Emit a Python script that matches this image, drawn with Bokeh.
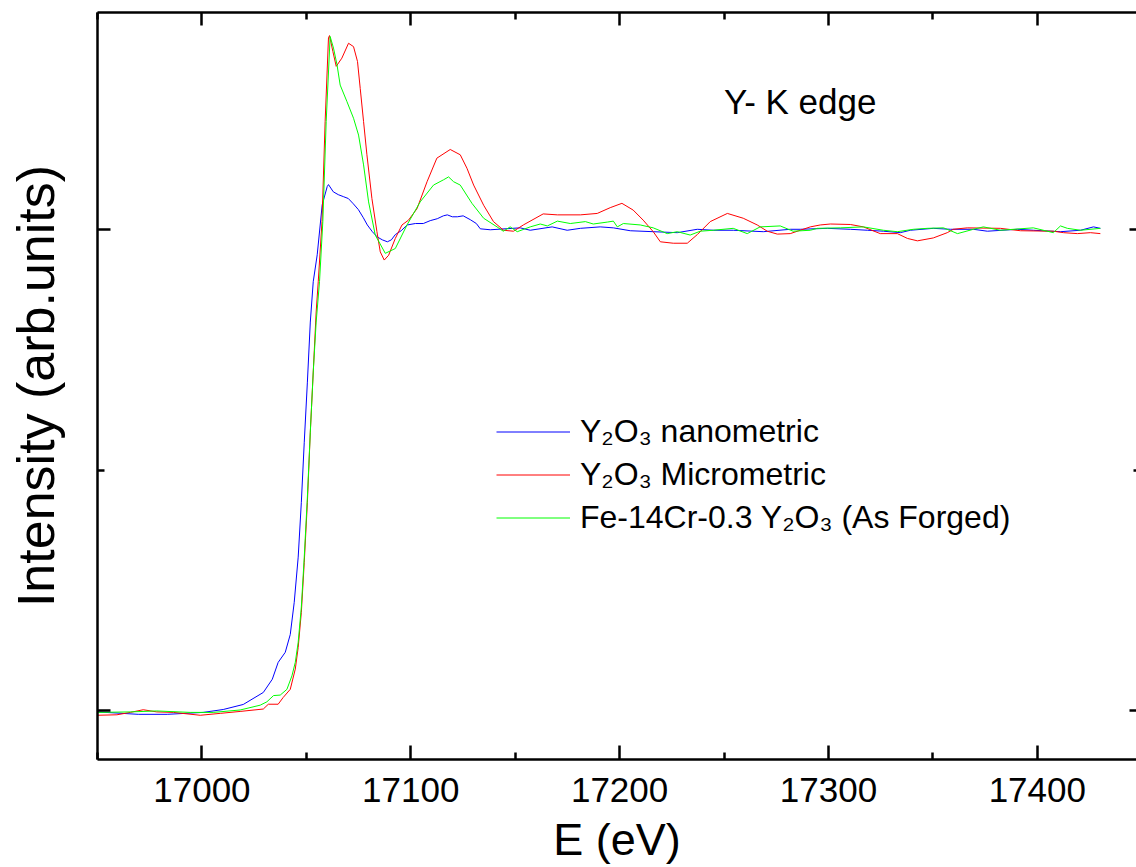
from bokeh.plotting import figure
from bokeh.models import (Range1d, FixedTicker, LinearAxis, Legend, LegendItem, Label)
from bokeh.embed import file_html
from bokeh.resources import INLINE

# ---------------- data ----------------
nano_E = [16950, 16969.5, 16983.4, 17000.6, 17010.2, 17019.8, 17029.4, 17033.7, 17036.5, 17039.9,
          17042.3, 17044.2, 17046.1, 17047.6, 17049.0, 17050.5, 17051.9, 17053.3, 17055.2, 17057.6,
          17060.0, 17060.6, 17062.9, 17065.3, 17067.7, 17070.1, 17072.5, 17074.9, 17077.3, 17079.2,
          17081.6, 17084.0, 17086.4, 17088.8, 17090.7, 17092.6, 17095.4, 17098.3, 17102.2, 17106.0,
          17109.3, 17112.7, 17115.6, 17117.5, 17119.9, 17122.3, 17125.1, 17128.5, 17131.4, 17133.3,
          17138.1, 17152.4, 17157.2, 17167.7, 17174.9, 17181.2, 17190.7, 17197.0, 17205.1, 17216.1,
          17227.6, 17237.2, 17244.8, 17254.4, 17268.8, 17281.7, 17286.5, 17299.5, 17310.5, 17318.6,
          17326.3, 17334.4, 17339.2, 17350.2, 17358.4, 17369.4, 17376.1, 17390.5, 17398.1, 17411.1,
          17420.7, 17426.9, 17430.2]
nano_I = [-0.003, -0.008, -0.008, -0.004, 0.002, 0.0125, 0.0375, 0.065, 0.100, 0.121,
          0.158, 0.225, 0.319, 0.433, 0.558, 0.683, 0.808, 0.892, 0.948, 1.052,
          1.090, 1.094, 1.079, 1.073, 1.069, 1.065, 1.054, 1.042, 1.025, 1.010,
          0.996, 0.985, 0.979, 0.975, 0.979, 0.990, 0.998, 1.010, 1.013, 1.013,
          1.019, 1.023, 1.029, 1.031, 1.027, 1.027, 1.029, 1.021, 1.013, 1.002,
          1.000, 1.004, 0.999, 1.006, 0.999, 1.003, 1.006, 1.004, 0.998, 0.996,
          0.994, 1.001, 0.999, 0.999, 0.996, 1.001, 1.001, 1.003, 1.001, 0.999,
          0.997, 0.994, 0.999, 1.003, 1.001, 1.001, 0.997, 1.001, 0.999, 0.996,
          0.999, 1.006, 1.003]

micro_E = [16950, 16959.3, 16965.7, 16971.9, 16978.4, 16986.3, 16999.2, 17008.8, 17018.3, 17029.4,
           17031.8, 17036.5, 17038.9, 17042.3, 17044.7, 17046.1, 17047.6, 17049.0, 17050.5, 17051.9,
           17053.3, 17054.7, 17055.7, 17057.5, 17059.0, 17060.6, 17061.1, 17062.7, 17064.3, 17067.0,
           17070.2, 17072.6, 17074.5, 17075.8, 17077.4, 17079.0, 17081.4, 17083.8, 17085.4, 17087.3,
           17089.4, 17092.6, 17095.8, 17098.9, 17103.0, 17107.8, 17112.5, 17118.9, 17123.7, 17126.9,
           17130.1, 17134.9, 17139.6, 17144.4, 17149.2, 17153.9, 17163.4, 17170.2, 17181.2, 17189.3,
           17195.5, 17201.1, 17206.5, 17211.3, 17216.1, 17219.5, 17225.7, 17232.4, 17237.2, 17243.4,
           17251.6, 17259.2, 17265.9, 17270.7, 17275.5, 17281.7, 17291.3, 17296.1, 17300.9, 17310.5,
           17316.7, 17324.8, 17333.0, 17337.8, 17342.6, 17350.2, 17356.9, 17359.8, 17366.5, 17382.3,
           17391.9, 17407.7, 17412.5, 17419.2, 17425.4, 17430.2]
micro_I = [-0.010, -0.009, -0.004, 0.0015, -0.003, -0.004, -0.010, -0.006, -0.002, 0.003,
           0.013, 0.013, 0.027, 0.044, 0.086, 0.131, 0.204, 0.308, 0.433, 0.579,
           0.704, 0.829, 0.892, 1.017, 1.225, 1.399, 1.404, 1.371, 1.340, 1.357,
           1.388, 1.381, 1.350, 1.294, 1.225, 1.156, 1.065, 0.996, 0.954, 0.937,
           0.947, 0.982, 1.010, 1.020, 1.044, 1.100, 1.149, 1.167, 1.156, 1.128,
           1.093, 1.051, 1.017, 0.999, 0.997, 1.010, 1.033, 1.031, 1.031, 1.034,
           1.046, 1.055, 1.041, 1.020, 0.996, 0.975, 0.972, 0.972, 0.990, 1.017,
           1.034, 1.024, 1.010, 0.997, 0.991, 0.992, 1.006, 1.010, 1.012, 1.011,
           1.006, 0.992, 0.992, 0.982, 0.977, 0.983, 0.994, 1.001, 1.004, 1.003,
           0.998, 0.997, 0.994, 0.992, 0.994, 0.992]

forged_E = [16950, 16965.7, 16978.4, 16994.4, 17005.4, 17018.3, 17027.9, 17031.1, 17034.3, 17037.5,
            17040.7, 17043.1, 17044.7, 17046.1, 17047.6, 17049.0, 17050.5, 17051.9, 17053.3, 17054.7,
            17056.3, 17057.9, 17059.5, 17061.4, 17063.0, 17064.7, 17066.2, 17069.4, 17072.6, 17075.0,
            17077.4, 17079.8, 17083.0, 17087.8, 17092.6, 17098.2, 17104.5, 17110.9, 17115.7, 17118.1,
            17120.5, 17123.7, 17129.3, 17134.9, 17141.3, 17144.3, 17147.6, 17151.0, 17157.2, 17162.0,
            17165.4, 17170.2, 17176.4, 17183.6, 17187.4, 17194.1, 17197.0, 17198.9, 17201.8, 17209.9,
            17216.1, 17222.8, 17227.6, 17233.8, 17238.6, 17244.8, 17254.4, 17261.1, 17267.3, 17276.9,
            17283.1, 17291.3, 17294.7, 17305.7, 17316.7, 17326.3, 17333.0, 17340.7, 17347.4, 17355.1,
            17361.8, 17369.4, 17374.2, 17382.3, 17398.1, 17407.7, 17411.1, 17414.4, 17420.7, 17430.2]
forged_I = [-0.004, -0.003, -0.001, -0.004, -0.004, 0.001, 0.011, 0.018, 0.031, 0.032,
            0.044, 0.072, 0.100, 0.142, 0.215, 0.319, 0.444, 0.579, 0.704, 0.808,
            0.892, 1.017, 1.225, 1.402, 1.378, 1.343, 1.301, 1.267, 1.232, 1.197,
            1.135, 1.058, 0.989, 0.951, 0.961, 1.010, 1.058, 1.093, 1.104, 1.110,
            1.100, 1.093, 1.055, 1.024, 1.006, 0.997, 1.006, 0.996, 1.006, 1.012,
            1.008, 1.018, 1.013, 1.017, 1.012, 1.016, 1.018, 1.006, 1.013, 1.010,
            1.004, 0.992, 0.996, 0.989, 0.997, 0.999, 1.003, 0.992, 1.006, 1.008,
            0.997, 0.999, 1.003, 1.004, 1.006, 0.999, 0.996, 1.001, 1.003, 1.004,
            0.992, 1.001, 1.006, 0.999, 1.004, 0.994, 1.008, 1.003, 0.999, 1.003]

x_major = [17000, 17100, 17200, 17300, 17400]
x_minor = [16950, 17050, 17150, 17250, 17350, 17450]
y_major = [0, 1]
y_minor = [0.5]

series_labels = ["Y\u2082O\u2083 nanometric", "Y\u2082O\u2083 Micrometric",
                 "Fe-14Cr-0.3 Y\u2082O\u2083 (As Forged)"]
annotation_text = "Y- K edge"

FONT = "Liberation Sans"

p = figure(width=1136, height=867, output_backend="svg", toolbar_location=None,
           x_range=Range1d(16950, 17447.5), y_range=Range1d(-0.102, 1.452),
           min_border_left=97, min_border_right=0, min_border_top=12, min_border_bottom=100)
p.outline_line_color = None
p.xgrid.visible = False
p.ygrid.visible = False
p.background_fill_color = "white"
p.border_fill_color = "white"

r_nano = p.line(nano_E, nano_I, line_color="#0000ff", line_width=1)
r_micro = p.line(micro_E, micro_I, line_color="#ff0000", line_width=1)
r_forged = p.line(forged_E, forged_I, line_color="#00ff00", line_width=1)

xt = FixedTicker(ticks=x_major, minor_ticks=x_minor)
yt = FixedTicker(ticks=y_major, minor_ticks=y_minor)

def style(ax, major_in, minor_in, labels):
    ax.axis_line_width = 2.5
    ax.axis_line_color = "black"
    ax.major_tick_line_width = 2.5
    ax.minor_tick_line_width = 2.5
    ax.major_tick_line_color = "black"
    ax.minor_tick_line_color = "black"
    ax.major_tick_in = major_in
    ax.major_tick_out = 0
    ax.minor_tick_in = minor_in
    ax.minor_tick_out = 0
    if not labels:
        ax.major_label_text_font_size = "0px"
        ax.major_label_standoff = 0

xa = p.xaxis[0]
xa.ticker = xt
style(xa, 14, 7, True)
xa.major_label_text_font = FONT
xa.major_label_text_font_size = "35px"
xa.major_label_text_color = "black"
xa.major_label_standoff = 18
xa.axis_label = "E (eV)"
xa.axis_label_text_font = FONT
xa.axis_label_text_font_size = "45px"
xa.axis_label_text_font_style = "normal"
xa.axis_label_text_color = "black"
xa.axis_label_standoff = 9

ya = p.yaxis[0]
ya.ticker = yt
style(ya, 13, 7, False)
ya.axis_label = "Intensity (arb.units)"
ya.axis_label_text_font = FONT
ya.axis_label_text_font_size = "52px"
ya.axis_label_text_font_style = "normal"
ya.axis_label_text_color = "black"
ya.axis_label_standoff = 33

top = LinearAxis(ticker=xt)
style(top, 13, 7, False)
p.add_layout(top, "above")

right = LinearAxis(ticker=yt)
style(right, 7, 3, False)
right.axis_line_color = None
p.add_layout(right, "right")

legend = Legend(items=[LegendItem(label=series_labels[0], renderers=[r_nano]),
                       LegendItem(label=series_labels[1], renderers=[r_micro]),
                       LegendItem(label=series_labels[2], renderers=[r_forged])],
                location=(399, 223), orientation="vertical")
legend.label_text_font = FONT
legend.label_text_font_size = "32px"
legend.label_text_color = "black"
legend.glyph_width = 74
legend.glyph_height = 37
legend.label_height = 37
legend.label_standoff = 10
legend.spacing = 6
legend.padding = 0
legend.margin = 0
legend.border_line_color = None
legend.background_fill_alpha = 0
p.add_layout(legend)

p.add_layout(Label(x=17250, y=1.267, text=annotation_text, text_font=FONT,
                   text_font_size="35px", text_color="black", text_baseline="middle",
                   text_align="left"))

open("out.html", "w").write(file_html(p, INLINE))
